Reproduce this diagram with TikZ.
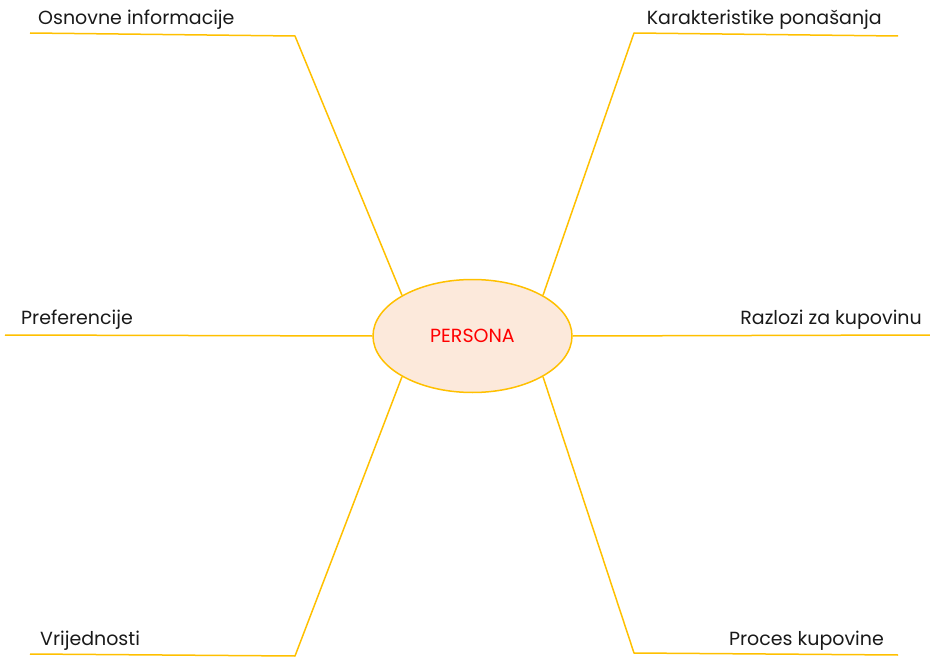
\documentclass[tikz,border=0pt]{standalone}
\usepackage{fontspec}
\setmainfont{Poppins}
\usepackage{tikz}
\usetikzlibrary{shapes.geometric}

\definecolor{gold}{RGB}{255,192,0}
\definecolor{peach}{RGB}{252,233,219}
\definecolor{txt}{RGB}{25,25,25}

\begin{document}
\begin{tikzpicture}[x=1pt,y=-1pt,
			link/.style={draw=gold,line width=1.5pt,line join=round},
			lbl/.style={text=txt,inner sep=0pt,font=\fontsize{19}{21}\selectfont}]
			
			\useasboundingbox (0,0) rectangle (930,658);
			
			\node(persona)[ellipse,draw=gold,fill=peach,line width=1.5pt,minimum width=199pt,minimum height=113pt,inner sep=0pt,text=red,font=\fontsize{19}{21}\selectfont] at (472.5,336){PERSONA};
			
			\node(osn)[lbl,anchor=base west] at (38,25){Osnovne informacije};
			
			\node(kar)[lbl,anchor=base east] at (882,25){Karakteristike ponašanja};
			
			\node(pref)[lbl,anchor=base west] at (21,324){Preferencije};
			
			\node(raz)[lbl,anchor=base east] at (922,324){Razlozi za kupovinu};
			
			\node(vri)[lbl,anchor=base west] at (40,645){Vrijednosti};
			
			\node(pro)[lbl,anchor=base east] at (884,645){Proces kupovine};
			
			\coordinate(osnk) at (295,36);
			\coordinate(osne) at (30,33);
			
			\coordinate(kark) at (634,33);
			\coordinate(kare) at (898,36);
			
			\coordinate(prefe) at (5,335);
			
			\coordinate(raze) at (930,335);
			
			\coordinate(vrik) at (295,656);
			\coordinate(vrie) at (30,654);
			
			\coordinate(prok) at (634,653);
			\coordinate(proe) at (898,655);
			
			\draw[link](persona.150)--(osnk)--(osne);
			
			\draw[link](persona.30)--(kark)--(kare);
			
			\draw[link](persona.west)--(prefe);
			
			\draw[link](persona.east)--(raze);
			
			\draw[link](persona.210)--(vrik)--(vrie);
			
			\draw[link](persona.330)--(prok)--(proe);
			
		\end{tikzpicture}
\end{document}
